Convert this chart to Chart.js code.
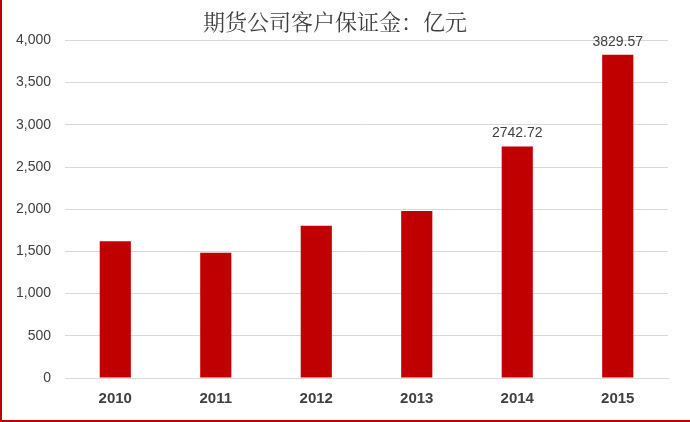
<!DOCTYPE html>
<html><head><meta charset="utf-8">
<script src="https://cdn.jsdelivr.net/npm/chart.js@4/dist/chart.umd.min.js"></script>
<style>
html,body{margin:0;padding:0;background:#fff;}
#wrap{position:absolute;left:0;top:0;width:688px;height:420px;border-left:2px solid #c00000;border-bottom:2px solid #c00000;}
</style></head><body>
<div id="wrap"><canvas id="c" width="688" height="420"></canvas></div>
<script>
const categories = ['2010','2011','2012','2013','2014','2015'];
const values = [1620, 1485, 1805, 1980, 2742.72, 3829.57];
const labelled = ['', '', '', '', '2742.72', '3829.57'];
const yTicks = [0,500,1000,1500,2000,2500,3000,3500,4000];

const labelPlugin = {
  id:'lbl',
  afterDatasetsDraw(chart){
    const ctx = chart.ctx;
    const meta = chart.getDatasetMeta(0);
    ctx.save();
    ctx.font = '14px "Liberation Sans", Arial';
    ctx.fillStyle = '#404040';
    ctx.textAlign = 'center';
    ctx.textBaseline = 'bottom';
    meta.data.forEach((b,i)=>{ if(labelled[i]) ctx.fillText(labelled[i], b.x, b.y-6); });
    ctx.restore();
  }
};

new Chart(document.getElementById('c'), {
  type:'bar',
  data:{labels:categories, datasets:[{data:values, backgroundColor:'#c00000', barPercentage:0.31, categoryPercentage:1}]},
  options:{
    responsive:false, animation:false,
    layout:{padding:{left:0,right:22,top:4,bottom:0}},
    plugins:{
      legend:{display:false}, tooltip:{enabled:false},
      title:{display:true, text:'期货公司客户保证金：亿元', font:{family:'"Noto Serif CJK SC","Noto Sans CJK SC", serif', size:22, weight:'normal'}, color:'#404040', padding:{top:4,bottom:6}}
    },
    scales:{
      x:{grid:{display:true, drawOnChartArea:false, color:'#d9d9d9', tickLength:0}, border:{color:'#d9d9d9'},
         ticks:{font:{family:'"Liberation Sans", Arial', size:15, weight:'bold'}, color:'#404040', padding:12}},
      y:{min:0, max:4000, afterBuildTicks(s){ s.ticks = yTicks.map(v=>({value:v})); },
         grid:{color:'#d9d9d9', tickLength:0}, border:{display:false},
         ticks:{font:{family:'"Liberation Sans", Arial', size:14}, color:'#404040', padding:14}}
    }
  },
  plugins:[labelPlugin]
});
</script></body></html>
